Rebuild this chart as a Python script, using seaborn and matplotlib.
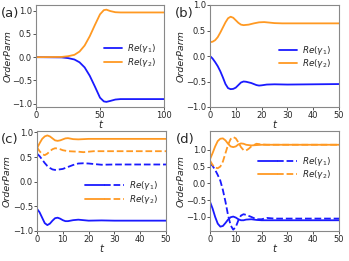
import matplotlib
matplotlib.use("Agg")
import matplotlib.pyplot as plt
import seaborn as sns
from matplotlib.legend_handler import HandlerTuple

sns.set_style("ticks")
plt.rcParams['font.family'] = ['DejaVu Sans']
plt.rcParams['mathtext.fontset'] = 'dejavusans'

AZUL = '#1a1aff'
NARANJA = '#ff9922'

# ==== datos ====
# panel (a)
ta = [0, 20, 25, 30, 34, 38, 42, 46, 50, 53, 55, 58, 62, 66, 70, 100]
a_g1 = [0, -0.005, -0.02, -0.05, -0.11, -0.22, -0.4, -0.63, -0.87, -0.95, -0.96, -0.94, -0.91, -0.9, -0.9, -0.9]
a_g2 = [0, 0.005, 0.02, 0.05, 0.12, 0.25, 0.45, 0.69, 0.92, 1.01, 1.02, 0.99, 0.965, 0.96, 0.96, 0.96]

# panel (b)
tb = [0, 1, 2, 3, 4, 5, 6, 7, 8, 9, 10, 11, 12, 13, 15, 17, 19, 21, 23, 25, 28, 32, 50]
b_g2 = [0.27, 0.28, 0.31, 0.37, 0.46, 0.56, 0.66, 0.74, 0.77, 0.75, 0.7, 0.65, 0.615, 0.605,
        0.615, 0.64, 0.66, 0.665, 0.655, 0.645, 0.64, 0.64, 0.64]
tb1 = [0, 1, 2, 3, 4, 5, 6, 7, 8, 9, 10, 11, 12, 13, 14, 16, 18, 19, 20, 22, 25, 30, 50]
b_g1 = [0, -0.05, -0.12, -0.2, -0.3, -0.42, -0.55, -0.63, -0.65, -0.645, -0.62, -0.57, -0.52,
        -0.5, -0.505, -0.53, -0.57, -0.58, -0.575, -0.56, -0.555, -0.56, -0.55]

# panel (c)  (solida / discontinua)
tc_g1s = [0, 1, 2, 3, 4, 5, 6, 7, 8, 9, 10, 11, 12, 14, 16, 18, 20, 25, 30, 50]
c_g1s = [-0.55, -0.62, -0.73, -0.84, -0.88, -0.85, -0.79, -0.74, -0.73, -0.75, -0.78, -0.8, -0.8,
         -0.78, -0.77, -0.78, -0.79, -0.785, -0.79, -0.79]
tc_g1d = [0, 1, 2, 3, 4, 5, 6, 7, 8, 10, 12, 14, 16, 18, 20, 22, 25, 30, 50]
c_g1d = [0.57, 0.52, 0.45, 0.38, 0.32, 0.28, 0.25, 0.24, 0.245, 0.26, 0.3, 0.34, 0.37, 0.375,
         0.37, 0.36, 0.345, 0.35, 0.35]
tc_g2s = [0, 1, 2, 3, 4, 5, 6, 7, 8, 9, 10, 11, 12, 13, 14, 16, 18, 20, 25, 50]
c_g2s = [0.68, 0.78, 0.87, 0.92, 0.94, 0.92, 0.88, 0.84, 0.83, 0.84, 0.86, 0.88, 0.885, 0.875,
         0.865, 0.86, 0.865, 0.87, 0.87, 0.87]
tc_g2d = [0, 1, 2, 3, 4, 5, 6, 7, 8, 9, 10, 12, 14, 16, 18, 20, 22, 25, 30, 50]
c_g2d = [0.70, 0.62, 0.56, 0.54, 0.57, 0.62, 0.66, 0.68, 0.675, 0.66, 0.64, 0.62, 0.615, 0.61,
         0.6, 0.61, 0.62, 0.62, 0.62, 0.62]

# panel (d)
td_g1s = [0, 1, 2, 3, 4, 5, 6, 7, 8, 9, 10, 11, 12, 13, 14, 16, 18, 20, 25, 50]
d_g1s = [-0.55, -0.75, -1.0, -1.2, -1.29, -1.27, -1.18, -1.08, -1.01, -0.99, -1.02, -1.07, -1.1,
         -1.1, -1.08, -1.07, -1.09, -1.1, -1.1, -1.1]
td_g1d = [0, 1, 2, 3, 4, 5, 6, 7, 8, 9, 10, 11, 12, 13, 14, 16, 18, 20, 22, 25, 30, 50]
d_g1d = [0.6, 0.52, 0.4, 0.25, 0.08, -0.2, -0.55, -0.95, -1.25, -1.38, -1.3, -1.1, -0.96, -0.92,
         -0.94, -1.0, -1.07, -1.07, -1.03, -1.05, -1.05, -1.05]
td_g2s = [0, 1, 2, 3, 4, 5, 6, 7, 8, 9, 10, 11, 12, 13, 14, 16, 18, 20, 25, 50]
d_g2s = [0.72, 0.9, 1.1, 1.26, 1.33, 1.34, 1.28, 1.18, 1.1, 1.08, 1.1, 1.16, 1.19, 1.18, 1.15,
         1.13, 1.14, 1.15, 1.15, 1.15]
td_g2d = [0, 1, 2, 3, 4, 5, 6, 7, 8, 9, 10, 11, 12, 13, 14, 15, 16, 18, 20, 22, 25, 50]
d_g2d = [0.68, 0.55, 0.47, 0.45, 0.5, 0.65, 0.9, 1.15, 1.32, 1.38, 1.34, 1.22, 1.08, 0.99, 0.98,
         1.03, 1.1, 1.18, 1.16, 1.15, 1.15, 1.15]

etq1 = r'$Re(\gamma_1)$'
etq2 = r'$Re(\gamma_2)$'

W, H = 349, 261
fig = plt.figure(figsize=(W / 100, H / 100), dpi=100)
FS_TICK = 6
FS_LEG = 6.3


def crear_eje(izq, der, arriba, abajo, xlab):
    ax = fig.add_axes([izq / W, (H - abajo) / H, (der - izq) / W, (abajo - arriba) / H])
    for s in ax.spines.values():
        s.set_color('#888888')
        s.set_linewidth(0.8)
    ax.tick_params(labelsize=FS_TICK, length=2, width=0.7, pad=1, color='#555555')
    ax.set_xlabel('t', fontstyle='italic', fontsize=7.2, labelpad=0)
    ax.set_ylabel('OrderParm', fontstyle='italic', fontsize=6.8)
    # xlab = borde derecho (en px) de la etiqueta vertical
    ax.yaxis.set_label_coords((xlab - izq) / (der - izq), 0.5)
    return ax


def leyenda(ax, handles, labels, ycen, hl):
    ax.legend(handles, labels, handler_map={tuple: HandlerTuple(ndivide=None, pad=0)},
              loc='center right', bbox_to_anchor=(1.0, ycen), frameon=False, fontsize=FS_LEG,
              handlelength=hl, labelspacing=0.02, handletextpad=0.6)


# ==== (a) ====
ax = crear_eje(36, 164, 5, 107, 13)
sns.lineplot(x=ta, y=a_g1, color=AZUL, lw=1.3, ax=ax)
sns.lineplot(x=ta, y=a_g2, color=NARANJA, lw=1.3, ax=ax)
ax.set_xlim(0, 100)
ax.set_ylim(-1.07, 1.12)
ax.set_xticks([0, 50, 100])
ax.set_yticks([-1.0, -0.5, 0.0, 0.5, 1.0])
leyenda(ax, ax.get_lines(), [etq1, etq2], 0.505, 2.0)

# ==== (b) ====
ax = crear_eje(210, 339, 5, 107, 186)
sns.lineplot(x=tb1, y=b_g1, color=AZUL, lw=1.3, ax=ax)
sns.lineplot(x=tb, y=b_g2, color=NARANJA, lw=1.3, ax=ax)
ax.set_xlim(0, 50)
ax.set_ylim(-1.0, 1.0)
ax.set_yticks([-1.0, -0.5, 0.0, 0.5, 1.0])
leyenda(ax, ax.get_lines(), [etq1, etq2], 0.49, 2.0)

# ==== (c) y (d) ====
paneles = [
    ((37, 166, 131, 231, 12), (tc_g1s, c_g1s, tc_g1d, c_g1d, tc_g2s, c_g2s, tc_g2d, c_g2d),
     (-1.0, 1.03), 0.385),
    ((210, 339, 131, 231, 186), (td_g1s, d_g1s, td_g1d, d_g1d, td_g2s, d_g2s, td_g2d, d_g2d),
     (-1.42, 1.56), 0.63),
]
for caja, datos, ylim, ycen in paneles:
    ax = crear_eje(*caja)
    t1s, y1s, t1d, y1d, t2s, y2s, t2d, y2d = datos
    sns.lineplot(x=t1s, y=y1s, color=AZUL, lw=1.3, ax=ax)
    sns.lineplot(x=t1d, y=y1d, color=AZUL, lw=1.3, ls='--', ax=ax)
    sns.lineplot(x=t2s, y=y2s, color=NARANJA, lw=1.3, ax=ax)
    sns.lineplot(x=t2d, y=y2d, color=NARANJA, lw=1.3, ls='--', ax=ax)
    ax.set_xlim(0, 50)
    ax.set_ylim(*ylim)
    ax.set_yticks([-1.0, -0.5, 0.0, 0.5, 1.0])
    l = ax.get_lines()
    leyenda(ax, [(l[0], l[1]), (l[2], l[3])], [etq1, etq2], ycen, 4.5)

for txt, x, y in [('(a)', 1, 13), ('(b)', 175, 13), ('(c)', 1, 140), ('(d)', 176, 140)]:
    fig.text(x / W, 1 - y / H, txt, fontsize=9.5, va='center', ha='left')

fig.savefig('out.png', dpi=100)
